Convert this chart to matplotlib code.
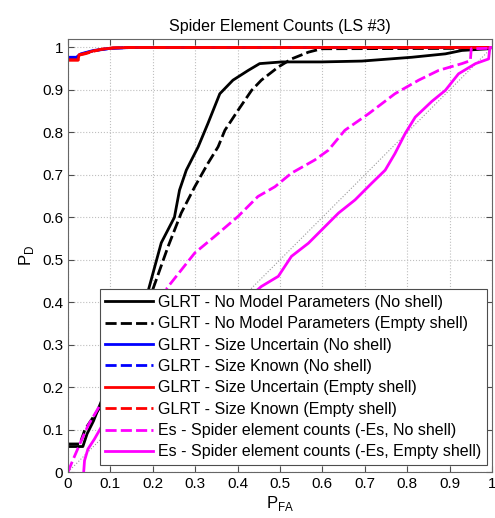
import numpy as np
import matplotlib
matplotlib.use('Agg')
from matplotlib import pyplot as plt

plt.rcParams['font.family'] = ['Liberation Sans', 'DejaVu Sans']

# ROC curve points (PFA, PD) per detector
glrt_nomodel_noshell_pfa = [0, 0.035, 0.045, 0.06, 0.08, 0.10, 0.13, 0.16, 0.19, 0.22, 0.251, 0.263,
                            0.279, 0.307, 0.330, 0.358, 0.389, 0.425, 0.452, 0.504, 0.598, 0.693,
                            0.811, 0.89, 0.929, 0.992, 1.0]
glrt_nomodel_noshell_pd = [0.06, 0.06, 0.09, 0.12, 0.17, 0.22, 0.29, 0.36, 0.43, 0.54, 0.60, 0.664,
                           0.711, 0.766, 0.821, 0.891, 0.923, 0.946, 0.962, 0.966, 0.966, 0.968,
                           0.977, 0.985, 0.993, 0.997, 1.0]

glrt_nomodel_empty_pfa = [0, 0.028, 0.04, 0.06, 0.078, 0.10, 0.13, 0.17, 0.20, 0.236, 0.267, 0.299,
                          0.33, 0.354, 0.37, 0.401, 0.433, 0.456, 0.496, 0.527, 0.567, 0.598,
                          0.95, 1.0]
glrt_nomodel_empty_pd = [0.066, 0.066, 0.10, 0.13, 0.156, 0.20, 0.27, 0.35, 0.43, 0.531, 0.61, 0.672,
                         0.727, 0.766, 0.805, 0.852, 0.899, 0.923, 0.954, 0.973, 0.989, 0.997,
                         0.998, 1.0]

glrt_unc_noshell_pfa = [0, 0.02, 0.03, 0.06, 0.10, 0.15, 1.0]
glrt_unc_noshell_pd = [0.977, 0.977, 0.985, 0.993, 0.998, 1.0, 1.0]
glrt_known_noshell_pfa = [0, 0.02, 0.03, 0.06, 0.10, 0.15, 1.0]
glrt_known_noshell_pd = [0.976, 0.976, 0.984, 0.992, 0.998, 1.0, 1.0]

glrt_unc_empty_pfa = [0, 0.024, 0.026, 0.04, 0.06, 0.08, 0.106, 0.15, 1.0]
glrt_unc_empty_pd = [0.971, 0.971, 0.983, 0.986, 0.992, 0.996, 0.999, 1.0, 1.0]
glrt_known_empty_pfa = [0, 0.024, 0.026, 0.04, 0.06, 0.08, 0.106, 0.15, 1.0]
glrt_known_empty_pd = [0.970, 0.970, 0.982, 0.985, 0.991, 0.996, 0.999, 1.0, 1.0]

es_noshell_pfa = [0, 0.011, 0.031, 0.047, 0.07, 0.10, 0.14, 0.18, 0.225, 0.234, 0.299, 0.346, 0.401,
                  0.448, 0.488, 0.527, 0.582, 0.614, 0.653, 0.709, 0.771, 0.827, 0.874, 0.929,
                  0.949, 0.951, 0.99, 1.0]
es_noshell_pd = [0, 0.027, 0.073, 0.109, 0.148, 0.20, 0.27, 0.34, 0.41, 0.434, 0.516, 0.555, 0.602,
                 0.649, 0.672, 0.704, 0.735, 0.758, 0.805, 0.844, 0.891, 0.923, 0.946, 0.962,
                 0.969, 0.997, 0.998, 1.0]

es_empty_pfa = [0.037, 0.039, 0.047, 0.062, 0.078, 0.12, 0.18, 0.25, 0.32, 0.39, 0.456, 0.496, 0.527,
                0.567, 0.606, 0.638, 0.677, 0.716, 0.748, 0.771, 0.795, 0.819, 0.858, 0.89, 0.921,
                0.961, 0.992, 0.995, 1.0]
es_empty_pd = [0, 0.027, 0.054, 0.077, 0.105, 0.14, 0.20, 0.26, 0.32, 0.38, 0.437, 0.461, 0.508,
               0.539, 0.578, 0.61, 0.641, 0.68, 0.711, 0.75, 0.797, 0.836, 0.873, 0.899, 0.938,
               0.962, 0.973, 1.0, 1.0]

labels = ['GLRT - No Model Parameters (No shell)',
          'GLRT - No Model Parameters (Empty shell)',
          'GLRT - Size Uncertain (No shell)',
          'GLRT - Size Known (No shell)',
          'GLRT - Size Uncertain (Empty shell)',
          'GLRT - Size Known (Empty shell)',
          'Es - Spider element counts (-Es, No shell)',
          'Es - Spider element counts (-Es, Empty shell)']

chance = [0, 1]

fig = plt.figure(figsize=(4.95, 5.18), dpi=100)
ax = fig.add_axes([68 / 495, 1 - 472 / 518, 424 / 495, 433 / 518])

dash = (4, 1.5)
lw = 2
ax.plot(chance, chance, ':', color='0.6', lw=0.8)
ax.plot(glrt_nomodel_noshell_pfa, glrt_nomodel_noshell_pd, '-', color='k', lw=lw, label=labels[0])
ax.plot(glrt_nomodel_empty_pfa, glrt_nomodel_empty_pd, '--', dashes=dash, color='k', lw=lw, label=labels[1])
ax.plot(glrt_unc_noshell_pfa, glrt_unc_noshell_pd, '-', color='b', lw=lw, label=labels[2])
ax.plot(glrt_known_noshell_pfa, glrt_known_noshell_pd, '--', dashes=dash, color='b', lw=lw, label=labels[3])
ax.plot(glrt_unc_empty_pfa, glrt_unc_empty_pd, '-', color='r', lw=lw, label=labels[4])
ax.plot(glrt_known_empty_pfa, glrt_known_empty_pd, '--', dashes=dash, color='r', lw=lw, label=labels[5])
ax.plot(es_noshell_pfa, es_noshell_pd, '--', dashes=dash, color='magenta', lw=lw, label=labels[6])
ax.plot(es_empty_pfa, es_empty_pd, '-', color='magenta', lw=lw, label=labels[7])

ax.set_xlim(0, 1)
ax.set_ylim(0, 1.02)
ax.set_xticks(np.arange(0, 1.01, 0.1))
ax.set_yticks(np.arange(0, 1.01, 0.1))
ax.set_xticklabels(['0', '0.1', '0.2', '0.3', '0.4', '0.5', '0.6', '0.7', '0.8', '0.9', '1'])
ax.set_yticklabels(['0', '0.1', '0.2', '0.3', '0.4', '0.5', '0.6', '0.7', '0.8', '0.9', '1'])
ax.tick_params(direction='in', top=True, right=True, labelsize=11, length=4, color='0.3')
ax.grid(True, linestyle=':', color='0.75', lw=0.8)
for s in ax.spines.values():
    s.set_color('0.4')
    s.set_linewidth(0.8)

ax.set_title('Spider Element Counts (LS #3)', fontsize=11.5)
ax.set_xlabel('P$_{\\mathregular{FA}}$', fontsize=12, labelpad=2)
ax.set_ylabel('P$_{\\mathregular{D}}$', fontsize=12, labelpad=4)

leg = ax.legend(loc='lower left', bbox_to_anchor=(0.075, 0.016),
                fontsize=11.5, handlelength=3.0, handletextpad=0.3, labelspacing=0.4,
                borderaxespad=0, borderpad=0.35, fancybox=False, framealpha=1)
leg.get_frame().set_edgecolor('0.3')
leg.get_frame().set_linewidth(0.8)

fig.savefig('out.png', dpi=100)
